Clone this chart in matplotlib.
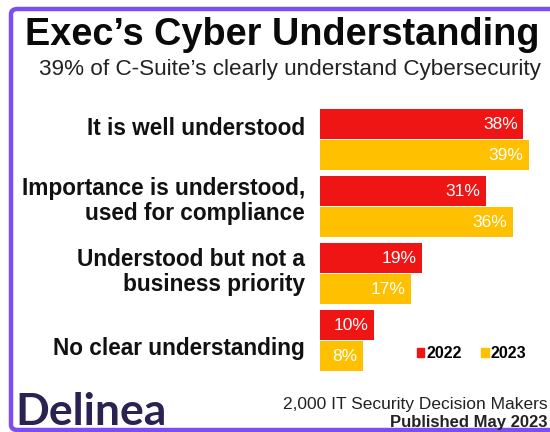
import numpy as np
import matplotlib
matplotlib.use("Agg")
import matplotlib.pyplot as plt
from matplotlib.patches import Patch, FancyBboxPatch

plt.rcParams['font.family'] = ['Liberation Sans', 'DejaVu Sans']

categories = ["It is well understood",
              "Importance is understood,\nused for compliance",
              "Understood but not a\nbusiness priority",
              "No clear understanding"]
vals_2022 = [38, 31, 19, 10]
vals_2023 = [39, 36, 17, 8]
years = ["2022", "2023"]

red = "#F01515"
yellow = "#FFC000"
purple = "#7B4DF2"

W, H = 550, 432
fig = plt.figure(figsize=(W / 100, H / 100), dpi=100)
fig.patch.set_facecolor("white")

# purple frame (left, top, bottom edges visible)
frame = FancyBboxPatch((11 / W, 2 / H), 1.2, (H - 9) / H - 2 / H,
                       boxstyle="round,pad=0,rounding_size=0.012",
                       transform=fig.transFigure, fill=False,
                       edgecolor=purple, linewidth=3.2, clip_on=False)
fig.add_artist(frame)

# bars axis: pixel frame x 320..550, y 105..377 (from top)
ax = fig.add_axes([320 / W, 1 - 377 / H, 230 / W, 272 / H])
ax.set_xlim(0, 230 / 5.35)
ax.set_ylim(3.54, -0.52)
ax.axis("off")

y = np.arange(len(categories))
h = 0.45
b1 = ax.barh(y - 0.232, vals_2022, height=h, color=red)
b2 = ax.barh(y + 0.232, vals_2023, height=h, color=yellow)

for bars, vals in ((b1, vals_2022), (b2, vals_2023)):
    for bar, v in zip(bars, vals):
        ax.text(v - 1.0, bar.get_y() + bar.get_height() / 2, f"{v}%",
                ha="right", va="center", color="white", fontsize=12.5)

label_shift = [-0.17, -0.09, -0.03, 0.12]
for yi, lab, s in zip(y, categories, label_shift):
    ax.text(-2.8, yi + s, lab, ha="right", va="center", fontsize=16.3,
            fontweight="bold", color="#111111", linespacing=1.13)

handles = [Patch(color=red, label=years[0]), Patch(color=yellow, label=years[1])]
leg = ax.legend(handles=handles, loc="center", bbox_to_anchor=(0.66, 0.085),
                ncol=2, frameon=False, handlelength=0.45, handleheight=0.45,
                handletextpad=0.15, columnspacing=1.2,
                prop={"weight": "bold", "size": 11.5})

fig.text(25 / W, 1 - 35 / H, "Exec\u2019s Cyber Understanding", ha="left",
         va="center", fontsize=27.3, fontweight="bold", color="#0A0A0A")
fig.text(290 / W, 1 - 70 / H, "39% of C-Suite\u2019s clearly understand Cybersecurity",
         ha="center", va="center", fontsize=16.2, color="#222222")

fig.text(15 / W, 1 - 412 / H, "Delinea", ha="left", va="center",
         fontsize=32, color="#2A2352", family=["Lato", "DejaVu Sans"],
         fontweight="bold")
fig.text(548 / W, 1 - 404 / H, "2,000 IT Security Decision Makers",
         ha="right", va="center", fontsize=12.5, color="#222222")
fig.text(548 / W, 1 - 422 / H, "Published May 2023",
         ha="right", va="center", fontsize=12, fontweight="bold", color="#222222")

fig.savefig("out.png", dpi=100, facecolor="white")
